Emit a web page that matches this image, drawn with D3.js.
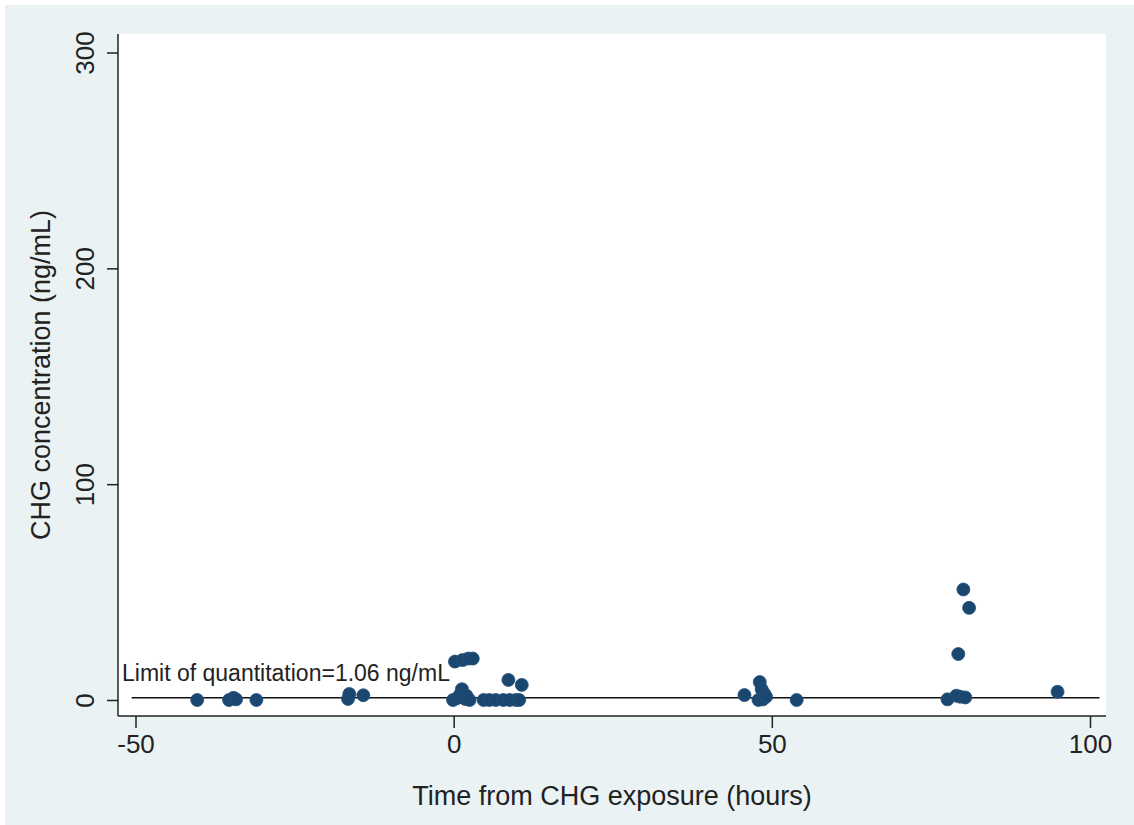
<!DOCTYPE html>
<html lang="en">
  <head>
    <meta charset="UTF-8" />
    <title>CHG concentration</title>
    <style>
      body { margin: 0; background: #ffffff; }
      text { font-family: "Liberation Sans", Arial, sans-serif; fill: #222; }
    </style>
  </head>
  <body>
    <div id="chart"></div>

    <script src="https://cdn.jsdelivr.net/npm/d3@7/dist/d3.min.js"></script>
    <script>

      // hours from CHG exposure and measured concentration (ng/mL)
      var hours = [-40.3, -35.3, -34.6, -34.2, -31.0, -16.6, -16.4, -14.2,
                   -0.1, 0.5, 1.0, 1.3, 1.8, 2.0, 2.5,
                   0.2, 1.4, 2.3, 3.0,
                   4.7, 5.6, 6.6, 7.8, 8.8, 9.8, 10.3, 8.6, 10.7,
                   45.7, 48.1, 48.4, 48.8, 47.9, 48.6, 49.1, 53.9,
                   77.6, 79.0, 79.6, 80.4, 79.3, 80.1, 81.0, 94.9];
      var conc  = [0, 0, 1.0, 0.3, 0, 0.5, 2.8, 2.2,
                   0, 0.8, 2.5, 5.0, 0.5, 2.0, 0,
                   17.8, 18.5, 19.2, 19.2,
                   0, 0, 0, 0, 0, 0, 0, 9.3, 7.0,
                   2.3, 8.3, 5.0, 3.0, 0, 0.3, 1.5, 0,
                   0.3, 2.0, 1.5, 1.2, 21.3, 51.2, 42.7, 3.8];
      var xTicks = [-50, 0, 50, 100];
      var yTicks = [0, 100, 200, 300];
      var lod = 1.06;
      var lodSpan = [-50.6, 101.5];

      var data = hours.map(function(h, i) { return { t: h, v: conc[i] }; });

      var W = 1134, H = 825;
      var plot = { left: 118, right: 1106, top: 34, bottom: 716 };

      var svg = d3.select("#chart").append("svg")
                  .attr("width", W)
                  .attr("height", H);

      // graph region
      svg.append("rect")
         .attr("x", 5).attr("y", 5)
         .attr("width", W - 5).attr("height", H - 5)
         .attr("fill", "#eaf2f3");

      svg.append("rect")
         .attr("x", plot.left).attr("y", plot.top)
         .attr("width", plot.right - plot.left)
         .attr("height", plot.bottom - plot.top)
         .attr("fill", "#ffffff");

      var xScale = d3.scaleLinear()
                     .domain([-50, 100])
                     .range([135.5, 1090]);
      var yScale = d3.scaleLinear()
                     .domain([0, 300])
                     .range([700, 52.5]);

      // plain hyphen for negatives, like the original
      var fmt = function(d) { return String(d); };

      var xAxis = d3.axisBottom(xScale)
                    .tickValues(xTicks)
                    .tickFormat(fmt)
                    .tickSize(12)
                    .tickPadding(6)
                    .tickSizeOuter(0);
      var yAxis = d3.axisLeft(yScale)
                    .tickValues(yTicks)
                    .tickFormat(fmt)
                    .tickSize(11)
                    .tickSizeOuter(0);

      var gx = svg.append("g")
         .attr("class", "x-axis")
         .attr("transform", "translate(0," + plot.bottom + ")")
         .call(xAxis);
      gx.select(".domain").remove();
      gx.selectAll("line").attr("stroke", "#222").attr("stroke-width", 1.5);
      gx.selectAll("text")
        .attr("font-size", 26)
        .attr("fill", "#222")
        .attr("dy", "0.72em");
      gx.append("line")
        .attr("x1", plot.left).attr("x2", plot.right)
        .attr("y1", 0).attr("y2", 0)
        .attr("stroke", "#222").attr("stroke-width", 1.5);

      var gy = svg.append("g")
         .attr("class", "y-axis")
         .attr("transform", "translate(" + plot.left + ",0)")
         .call(yAxis);
      gy.select(".domain").remove();
      gy.selectAll("line").attr("stroke", "#222").attr("stroke-width", 1.5);
      gy.selectAll("text")
        .attr("font-size", 26)
        .attr("fill", "#222")
        .attr("x", null).attr("dy", null)
        .attr("text-anchor", "middle")
        .attr("transform", "translate(-24,0)rotate(-90)");
      gy.append("line")
        .attr("x1", 0).attr("x2", 0)
        .attr("y1", plot.top).attr("y2", plot.bottom)
        .attr("stroke", "#222").attr("stroke-width", 1.5);

      // limit of quantitation
      svg.append("line")
         .attr("x1", xScale(lodSpan[0])).attr("x2", xScale(lodSpan[1]))
         .attr("y1", yScale(lod)).attr("y2", yScale(lod))
         .attr("stroke", "#111")
         .attr("stroke-width", 1.6);
      svg.append("text")
         .attr("x", plot.left + 4)
         .attr("y", yScale(lod) - 17)
         .attr("font-size", 23)
         .text("Limit of quantitation=" + lod + " ng/mL");

      svg.selectAll("circle.points")
         .data(data)
         .enter()
         .append("circle")
         .attr("class", "points")
         .attr("cx", function(d) { return xScale(d.t); })
         .attr("cy", function(d) { return yScale(d.v); })
         .attr("r", 6.5)
         .attr("fill", "#1a476f")
         .attr("stroke", "#24507a")
         .attr("stroke-width", 0.8);

      svg.append("text")
         .attr("text-anchor", "middle")
         .attr("x", (plot.left + plot.right) / 2)
         .attr("y", 805)
         .attr("font-size", 27)
         .text("Time from CHG exposure (hours)");
      svg.append("text")
         .attr("text-anchor", "middle")
         .attr("transform", "translate(50," + ((plot.top + plot.bottom) / 2) + ")rotate(-90)")
         .attr("font-size", 27)
         .text("CHG concentration (ng/mL)");

    </script>
  </body>
</html>
